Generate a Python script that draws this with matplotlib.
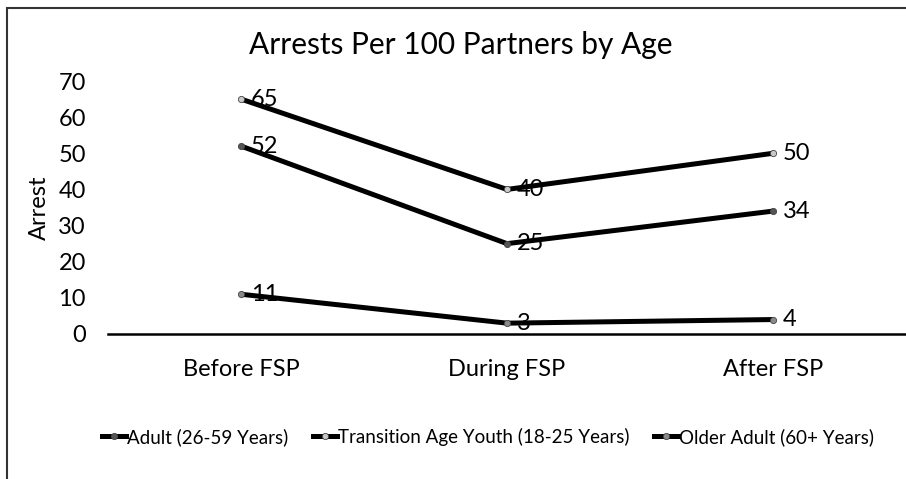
import matplotlib
matplotlib.use("Agg")
import matplotlib.pyplot as plt
from matplotlib.patches import Rectangle
from matplotlib.lines import Line2D

plt.rcParams['font.family'] = ['Lato', 'DejaVu Sans']

categories = ["Before FSP", "During FSP", "After FSP"]
series_names = ["Adult (26-59 Years)", "Transition Age Youth (18-25 Years)", "Older Adult (60+ Years)"]
adult = [52, 25, 34]
youth = [65, 40, 50]
older = [11, 3, 4]
yticks = [0, 10, 20, 30, 40, 50, 60, 70]
marker_colors = ["#555555", "#c8c8c8", "#8a8a8a"]

W, H = 906, 479
fig = plt.figure(figsize=(W / 100, H / 100), dpi=100)

# chart border
fig.patches.append(Rectangle((7 / W, -0.05), 1.2, 1 - 8 / H + 0.05, transform=fig.transFigure,
                             fill=False, edgecolor="#333333", linewidth=1.5, clip_on=False))

ax = fig.add_axes([108 / W, 1 - 334 / H, 798 / W, (334 - 81) / H])
x = list(range(len(categories)))
for vals, name, mc in zip([adult, youth, older], series_names, marker_colors):
    ax.plot(x, vals, color="black", linewidth=3.6, marker="o", markersize=4.5,
            markerfacecolor=mc, markeredgecolor="#444444", markeredgewidth=0.6,
            solid_capstyle="butt", label=name, clip_on=False)
    for xi, v in zip(x, vals):
        ax.annotate(str(v), (xi, v), xytext=(7, 0), textcoords="offset points",
                    ha="left", va="center", fontsize=17)

ax.set_xlim(-0.5, 2.5)
ax.set_ylim(0, 70)
ax.set_yticks(yticks)
ax.set_xticks(x)
ax.set_xticklabels(categories)
ax.tick_params(axis="both", length=0, labelsize=17)
ax.tick_params(axis="x", pad=18)
ax.tick_params(axis="y", pad=16)
for s in ["top", "right", "left"]:
    ax.spines[s].set_visible(False)
ax.spines["bottom"].set_linewidth(1.8)
ax.set_ylabel("Arrest", fontsize=17, labelpad=2)
ax.yaxis.set_label_coords(-58 / 798, 0.5)

fig.text(461 / W, 1 - 45 / H, "Arrests Per 100 Partners by Age", ha="center", va="center", fontsize=21.5)

handles = [Line2D([0], [0], color="black", linewidth=3.6, marker="o", markersize=4.5,
                  markerfacecolor=mc, markeredgecolor="#444444", markeredgewidth=0.6)
           for mc in marker_colors]
fig.legend(handles, series_names, loc="center", bbox_to_anchor=(488 / W, 1 - 437 / H),
           ncol=3, frameon=False, fontsize=13.5, handlelength=1.3, handletextpad=0.05,
           columnspacing=1.3)

fig.savefig("out.png", dpi=100)
